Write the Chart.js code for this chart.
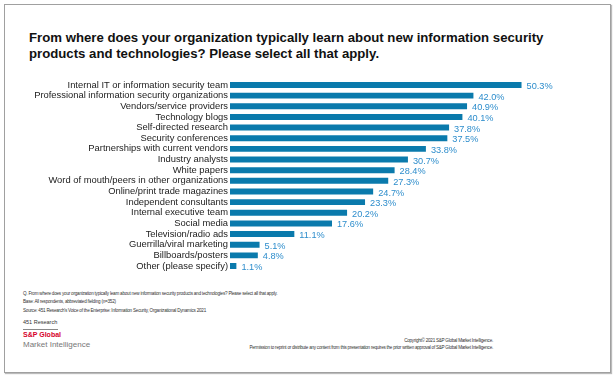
<!DOCTYPE html>
<html>
<head>
<meta charset="utf-8">
<script src="https://cdn.jsdelivr.net/npm/chart.js@4"></script>
<style>
  body { margin: 0; width: 616px; height: 379px; background: #fff; font-family: "Liberation Sans", Arial, sans-serif; position: relative; overflow: hidden; }
  .frame { position: absolute; left: 4px; top: 4px; width: 605px; height: 367px; border: 1px solid #a0a0a0; box-shadow: 1px 1px 1px #bbb; }
  .title { position: absolute; left: 29px; top: 30px; font-size: 13.2px; font-weight: bold; color: #111; line-height: 16px; }
  #wrap { position: absolute; left: 0; top: 72px; width: 616px; height: 207px; }
  .note { position: absolute; left: 23px; font-size: 4.6px; color: #333; white-space: nowrap; letter-spacing: -0.22px; }
  .right { position: absolute; right: 123px; font-size: 4.6px; color: #333; white-space: nowrap; text-align: right; letter-spacing: -0.25px; }
</style>
</head>
<body>
<div class="frame"></div>
<div class="title">From where does your organization typically learn about new information security<br>products and technologies? Please select all that apply.</div>
<div id="wrap"><canvas id="grafica"></canvas></div>

<div class="note" style="top:291px">Q. From where does your organization typically learn about new information security products and technologies? Please select all that apply.</div>
<div class="note" style="top:299px">Base: All respondents, abbreviated fielding (n=352)</div>
<div class="note" style="top:308px">Source: 451 Research's Voice of the Enterprise: Information Security, Organizational Dynamics 2021</div>
<div class="note" style="top:319px; font-size:5.5px; letter-spacing:0">451 Research</div>
<div style="position:absolute; left:23px; top:329px; width:35px; height:1px; background:#888"></div>
<div style="position:absolute; left:23px; top:331px; font-size:7px; font-weight:bold; color:#d6002a">S&amp;P Global</div>
<div style="position:absolute; left:23px; top:340px; font-size:8px; color:#777">Market Intelligence</div>
<div class="right" style="top:338px">Copyright© 2021 S&amp;P Global Market Intelligence.</div>
<div class="right" style="top:345px">Permission to reprint or distribute any content from this presentation requires the prior written approval of S&amp;P Global Market Intelligence.</div>

<script>
const categorias = [
  "Internal IT or information security team",
  "Professional information security organizations",
  "Vendors/service providers",
  "Technology blogs",
  "Self-directed research",
  "Security conferences",
  "Partnerships with current vendors",
  "Industry analysts",
  "White papers",
  "Word of mouth/peers in other organizations",
  "Online/print trade magazines",
  "Independent consultants",
  "Internal executive team",
  "Social media",
  "Television/radio ads",
  "Guerrilla/viral marketing",
  "Billboards/posters",
  "Other (please specify)"
];
const porcentajes = [50.3, 42.0, 40.9, 40.1, 37.8, 37.5, 33.8, 30.7, 28.4, 27.3, 24.7, 23.3, 20.2, 17.6, 11.1, 5.1, 4.8, 1.1];

// etiquetas de valor al final de cada barra
const etiquetasValor = {
  id: 'etiquetasValor',
  afterDatasetsDraw(chart) {
    const ctx = chart.ctx;
    const meta = chart.getDatasetMeta(0);
    ctx.save();
    ctx.font = '9.2px "Liberation Sans", Arial, sans-serif';
    ctx.fillStyle = '#2d8dcc';
    ctx.textAlign = 'left';
    ctx.textBaseline = 'middle';
    meta.data.forEach((bar, i) => {
      ctx.fillText(porcentajes[i].toFixed(1) + '%', bar.x + 5, bar.y + 1.5);
    });
    ctx.restore();
  }
};

new Chart(document.getElementById('grafica'), {
  type: 'bar',
  data: {
    labels: categorias,
    datasets: [{
      data: porcentajes,
      backgroundColor: '#0a7aac',
      categoryPercentage: 1,
      barPercentage: 0.56
    }]
  },
  options: {
    indexAxis: 'y',
    responsive: true,
    maintainAspectRatio: false,
    animation: false,
    layout: { padding: 0 },
    plugins: {
      legend: { display: false },
      tooltip: { enabled: false }
    },
    scales: {
      x: {
        display: false,
        min: 0,
        max: 66.6
      },
      y: {
        grid: { display: false, drawTicks: false },
        border: { display: false },
        afterFit(scale) { scale.width = 230; },
        ticks: {
          autoSkip: false,
          padding: 2,
          color: '#222',
          font: { family: '"Liberation Sans", Arial, sans-serif', size: 9.4 }
        }
      }
    }
  },
  plugins: [etiquetasValor]
});
</script>
</body>
</html>
